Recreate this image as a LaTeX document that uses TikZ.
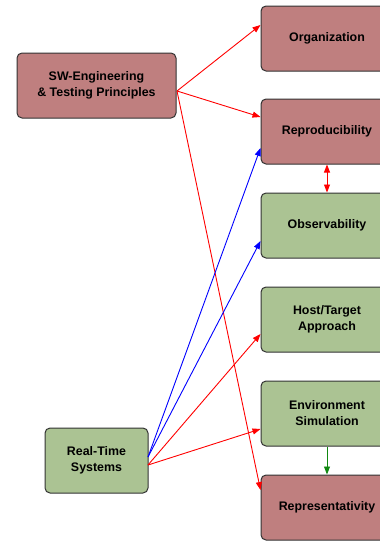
\documentclass[tikz,border=0pt]{standalone}
\usepackage{fontspec}
\setmainfont{Liberation Sans}
\usetikzlibrary{arrows.meta}
\definecolor{swred}{HTML}{BF7F7F}
\definecolor{rtgreen}{HTML}{ABC393}
\definecolor{boxline}{HTML}{333333}
\definecolor{lnred}{HTML}{FF0000}
\definecolor{lnblue}{HTML}{0000FF}
\definecolor{lngreen}{HTML}{118811}
\tikzset{
  box/.style={draw=boxline, line width=1pt, rounded corners=5pt, align=center,
    font=\fontsize{12.4}{16}\selectfont\bfseries, inner sep=0pt},
  redbox/.style={box, fill=swred},
  greenbox/.style={box, fill=rtgreen},
  tip/.style={-{Triangle[length=8pt,width=6pt]}},
  link/.style={line width=0.9pt, tip},
}
\begin{document}
\begin{tikzpicture}[x=1pt,y=-1pt]
\useasboundingbox (0,0) rectangle (380,541);
\begin{scope}
\clip (0,0) rectangle (380,541);
% aspect boxes on the right
\node[redbox, minimum width=132pt, minimum height=65pt] (org) at (327,38.5) {Organization};
\node[redbox, minimum width=132pt, minimum height=65pt] (rep) at (327,131.5) {Reproducibility};
\node[greenbox, minimum width=132pt, minimum height=65pt] (obs) at (327,225.5) {Observability};
\node[greenbox, minimum width=132pt, minimum height=65pt] (host) at (327,319.5) {Host/Target\\Approach};
\node[greenbox, minimum width=132pt, minimum height=65pt] (env) at (327,413.5) {Environment\\Simulation};
\node[redbox, minimum width=132pt, minimum height=65pt] (rpr) at (327,507.5) {Representativity};
\end{scope}
% source boxes on the left
\node[redbox, minimum width=159pt, minimum height=65pt] (sw) at (96.5,85.5) {SW-Engineering\\\& Testing Principles};
\node[greenbox, minimum width=103pt, minimum height=65pt] (rt) at (96.5,460.5) {Real-Time\\Systems};
% anchor points on the box sides
\coordinate (swo) at (177,91);
\coordinate (rtb) at (148,457);
\coordinate (rtr) at (148,465);
% connectors from the engineering principles
\draw[link, lnred] (swo) -- (org.west |- 0,25);
\draw[link, lnred] (swo) -- (rep.west |- 0,117);
\draw[link, lnred] (swo) -- (rpr.west |- 0,490);
% connectors from real-time systems
\draw[link, lnblue] (rtb) -- (rep.west |- 0,148);
\draw[link, lnblue] (rtb) -- (obs.west |- 0,241);
\draw[link, lnred] (rtr) -- (host.west |- 0,334);
\draw[link, lnred] (rtr) -- (env.west |- 0,429);
% links between aspects
\draw[line width=0.9pt, lnred, {Triangle[length=8pt,width=6pt]}-{Triangle[length=8pt,width=6pt]}] (rep.south) -- (obs.north);
\draw[link, lngreen] (env.south) -- (rpr.north);
\end{tikzpicture}
\end{document}
